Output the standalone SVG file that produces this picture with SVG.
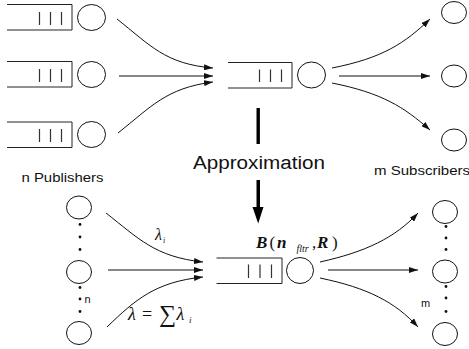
<svg xmlns="http://www.w3.org/2000/svg" width="469" height="349" viewBox="0 0 469 349">
<defs>
<style>
.q{fill:none;stroke:#222;stroke-width:1}
.bar{stroke:#333;stroke-width:1.2}
.c{fill:#fff;stroke:#111;stroke-width:1}
.e{fill:none;stroke:#111;stroke-width:1}
.dot{fill:#111}
.lbl{font-family:"Liberation Sans",Arial,sans-serif;fill:#111}
.m{font-family:"Liberation Serif","Times New Roman",serif;font-style:italic;fill:#111}
</style>
<marker id="ah" markerWidth="9" markerHeight="6" refX="9" refY="3" orient="auto" markerUnits="userSpaceOnUse">
<path d="M0,0 L9,3 L0,6 Z" fill="#111"/>
</marker>
</defs>

<g id="pub1"><path class="q" d="M7,4.5 H72 V30 H7"/><path class="bar" d="M39.5,12 V25 M50.5,12 V25 M61.5,12 V25"/><ellipse class="c" cx="91.5" cy="17.5" rx="14" ry="13"/></g>
<g id="pub2"><path class="q" d="M7,61.5 H72 V87 H7"/><path class="bar" d="M39.5,69 V82 M50.5,69 V82 M61.5,69 V82"/><ellipse class="c" cx="91.5" cy="74.5" rx="14" ry="13"/></g>
<g id="pub3"><path class="q" d="M7,122 H72 V147.5 H7"/><path class="bar" d="M39.5,129 V142 M50.5,129 V142 M61.5,129 V142"/><ellipse class="c" cx="91.5" cy="134.5" rx="14" ry="13"/></g>

<g id="broker"><path class="q" d="M228,62.5 H292 V88 H228"/><path class="bar" d="M259.5,69.5 V82 M270.5,69.5 V82 M281.5,69.5 V82"/><ellipse class="c" cx="311.5" cy="75" rx="14" ry="13"/></g>

<g id="sub1"><ellipse class="c" cx="454" cy="12.5" rx="12.5" ry="11"/></g>
<g id="sub2"><ellipse class="c" cx="454" cy="76" rx="12.5" ry="11"/></g>
<g id="sub3"><ellipse class="c" cx="454" cy="140" rx="12.5" ry="11"/></g>

<g id="approx">
<rect x="256.5" y="108" width="3.4" height="36" fill="#000"/>
<text class="lbl" x="193" y="169" font-size="18" textLength="132" lengthAdjust="spacingAndGlyphs">Approximation</text>
<path d="M256.5,180 H260 V207 H263.5 L258.2,223.5 L252.5,207 H256.5 Z" fill="#000"/>
</g>

<g id="labels">
<text class="lbl" x="21.5" y="181.5" font-size="13" textLength="82" lengthAdjust="spacingAndGlyphs">n Publishers</text>
<text class="lbl" x="374" y="174.5" font-size="13" textLength="96" lengthAdjust="spacingAndGlyphs">m Subscribers</text>
</g>

<g id="bpub1"><ellipse class="c" cx="79" cy="207.5" rx="12.5" ry="11.5"/></g>
<g id="bpub2"><ellipse class="c" cx="79" cy="272" rx="12.5" ry="11.5"/></g>
<g id="bpub3"><ellipse class="c" cx="79" cy="333" rx="12.5" ry="11.5"/></g>
<g id="bpubdots">
<circle class="dot" cx="80" cy="224.5" r="1.4"/><circle class="dot" cx="80" cy="237" r="1.4"/><circle class="dot" cx="80" cy="249.5" r="1.4"/>
<circle class="dot" cx="80" cy="287.5" r="1.4"/><circle class="dot" cx="80" cy="299" r="1.4"/><circle class="dot" cx="80" cy="311.5" r="1.4"/>
<text class="lbl" x="84.5" y="302.5" font-size="11">n</text>
</g>

<g id="bbroker"><path class="q" d="M216.5,258 H282 V283.5 H216.5"/><path class="bar" d="M248.5,264.5 V278 M260,264.5 V278 M271.5,264.5 V278"/><ellipse class="c" cx="300" cy="270.5" rx="13.5" ry="13"/>
<text class="m" y="248" font-size="17" font-weight="bold"><tspan x="256">B</tspan><tspan x="269.5" font-style="normal" font-weight="normal">(</tspan><tspan x="277">n</tspan><tspan x="296.5" y="251.5" font-size="10" font-weight="normal">fltr</tspan><tspan x="312" y="248" font-style="normal" font-weight="normal">,</tspan><tspan x="317">R</tspan><tspan x="332" font-style="normal" font-weight="normal">)</tspan></text>
</g>

<g id="bsub1"><ellipse class="c" cx="445" cy="212" rx="12.5" ry="11.5"/></g>
<g id="bsub2"><ellipse class="c" cx="445" cy="271.5" rx="12.5" ry="11.5"/></g>
<g id="bsub3"><ellipse class="c" cx="445" cy="334" rx="12.5" ry="11.5"/></g>
<g id="bsubdots">
<circle class="dot" cx="446" cy="226.5" r="1.4"/><circle class="dot" cx="446" cy="238" r="1.4"/><circle class="dot" cx="446" cy="249.5" r="1.4"/>
<circle class="dot" cx="446" cy="286.5" r="1.4"/><circle class="dot" cx="446" cy="298" r="1.4"/><circle class="dot" cx="446" cy="311.5" r="1.4"/>
<text class="lbl" x="421" y="307" font-size="11">m</text>
</g>

<g id="connectors">
<path class="e" marker-end="url(#ah)" d="M117,19 C150,45 165,64 213,68"/>
<path class="e" marker-end="url(#ah)" d="M119,76 L213,76"/>
<path class="e" marker-end="url(#ah)" d="M118,133 C151,107 166,88 213,82"/>
<path class="e" marker-end="url(#ah)" d="M332,68 C383,58 405,43 430,19"/>
<path class="e" marker-end="url(#ah)" d="M339,76 L430,76"/>
<path class="e" marker-end="url(#ah)" d="M332,83 C382,93 404,107 430,130"/>
<path class="e" marker-end="url(#ah)" d="M106,213 C138,238 155,257 203,262"/>
<path class="e" marker-end="url(#ah)" d="M108,270 L203,270"/>
<path class="e" marker-end="url(#ah)" d="M107,327 C135,300 155,282 203,277"/>
<path class="e" marker-end="url(#ah)" d="M320,262 C365,252 395,238 418,213"/>
<path class="e" marker-end="url(#ah)" d="M328,270 L418,270"/>
<path class="e" marker-end="url(#ah)" d="M320,278 C368,288 395,302 418,327"/>
</g>

<g id="rates">
<text class="m" font-size="16"><tspan x="155" y="240">λ</tspan><tspan x="163" y="243" font-size="8">i</tspan></text>
<text class="m" font-size="18"><tspan x="128" y="320">λ</tspan><tspan x="142" y="320" font-style="normal">=</tspan><tspan x="159" y="322" font-style="normal" font-size="24">∑</tspan><tspan x="176.5" y="320">λ</tspan><tspan x="189" y="323" font-size="9">i</tspan></text>
</g>
</svg>
